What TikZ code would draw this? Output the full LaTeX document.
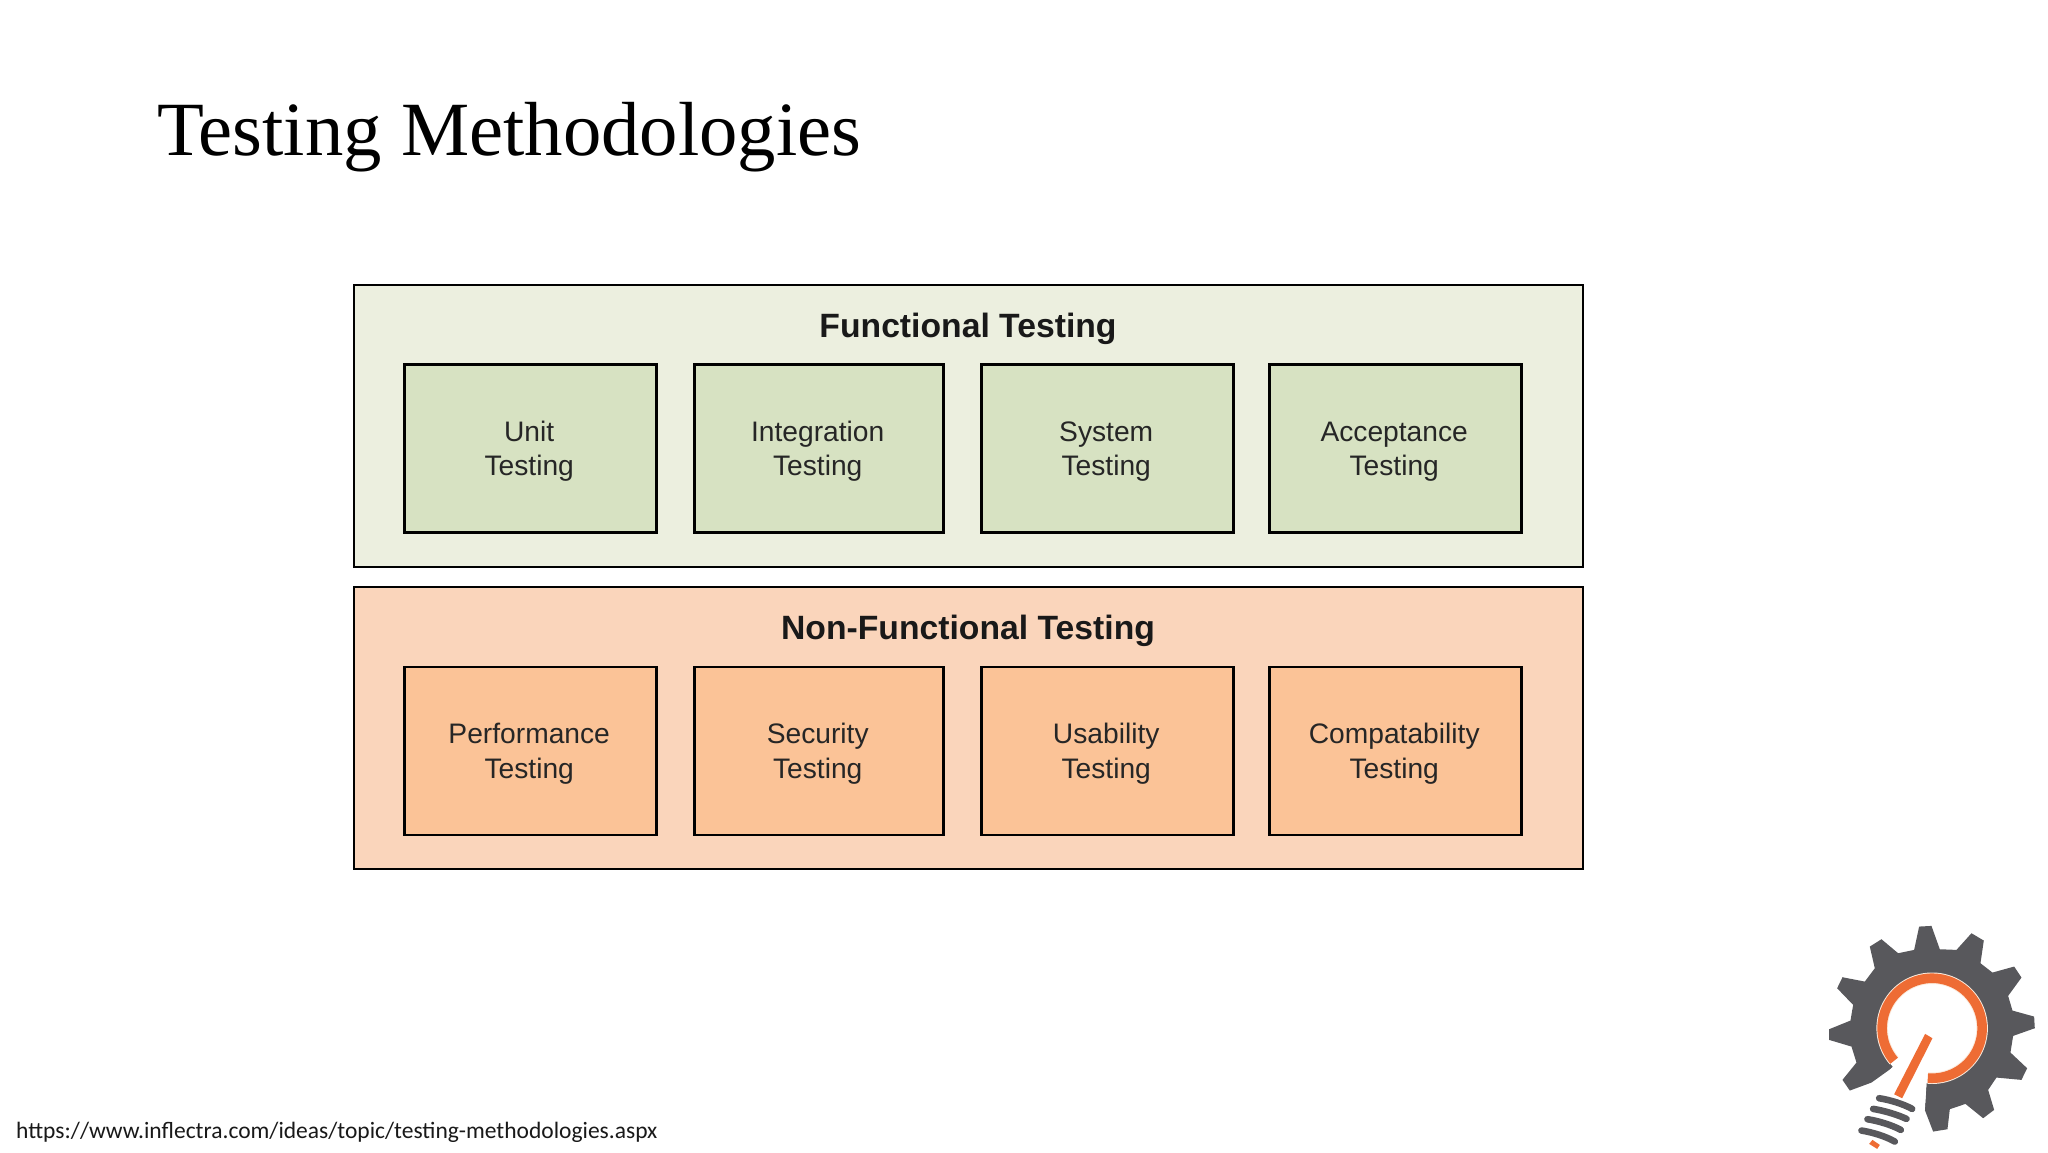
\documentclass[tikz,border=0pt]{standalone}
\usepackage{fontspec}
\setmainfont{Liberation Sans}
\newfontfamily\titlefont{Liberation Serif}
\newfontfamily\urlfont{Carlito}
\definecolor{gpanel}{HTML}{ECEFDF}
\definecolor{gbox}{HTML}{D7E2C2}
\definecolor{opanel}{HTML}{FAD5BB}
\definecolor{obox}{HTML}{FBC397}
\definecolor{boxtext}{HTML}{262626}
\definecolor{gearc}{HTML}{58585C}
\definecolor{orangec}{HTML}{EE6C34}
\definecolor{creamc}{HTML}{FBEBDD}
\newcommand{\twolines}[2]{\begin{tabular}{@{}c@{}}\rule{0pt}{30.5pt}#1\\[0.4pt]#2\end{tabular}\hspace{2.6pt}}
\tikzset{
  panel/.style={draw=black,line width=2pt,inner sep=0pt,minimum width=1229pt,minimum height=282pt},
  testbox/.style={draw=black,line width=2.5pt,inner sep=0pt,minimum height=168pt,align=center,font=\fontsize{28.2}{34}\selectfont,text=boxtext},
  head/.style={font=\fontsize{33.7}{36}\selectfont\bfseries,text=black!90,inner sep=0pt},
  coil/.style={draw=gearc,line width=6.6pt,line cap=round},
}
\begin{document}
\begin{tikzpicture}[x=1pt,y=-1pt]
\useasboundingbox (0,0) rectangle (2048,1152);
\fill[white] (0,0) rectangle (2048,1152);
\node[anchor=base west,inner sep=0pt,font=\fontsize{76.7}{90}\selectfont\titlefont] (title) at (157,155) {Testing Methodologies};
\node[panel,fill=gpanel] (fpanel) at (968.5,426) {};
\node[panel,fill=opanel] (npanel) at (968.5,728) {};
\node[head] (fhead) at (968,329) {Functional Testing};
\node[head] (nhead) at (968,631) {Non-Functional Testing};
\node[testbox,fill=gbox,minimum width=252pt] (f1) at (530.5,448.5) {\twolines{Unit}{Testing}};
\node[testbox,fill=gbox,minimum width=249pt] (f2) at (819,448.5) {\twolines{Integration}{Testing}};
\node[testbox,fill=gbox,minimum width=252pt] (f3) at (1107.5,448.5) {\twolines{System}{Testing}};
\node[testbox,fill=gbox,minimum width=252pt] (f4) at (1395.5,448.5) {\twolines{Acceptance}{Testing}};
\node[testbox,fill=obox,minimum width=252pt] (n1) at (530.5,751) {\twolines{Performance}{Testing}};
\node[testbox,fill=obox,minimum width=249pt] (n2) at (819,751) {\twolines{Security}{Testing}};
\node[testbox,fill=obox,minimum width=252pt] (n3) at (1107.5,751) {\twolines{Usability}{Testing}};
\node[testbox,fill=obox,minimum width=252pt] (n4) at (1395.5,751) {\twolines{Compatability}{Testing}};
\node[anchor=base west,inner sep=0pt,font=\fontsize{23.5}{28}\selectfont\urlfont,text=black!90] (url) at (16,1138) {https://www.inflectra.com/ideas/topic/testing-methodologies.aspx};
\begin{scope}[x=0.3333pt,y=-0.3333pt,shift={(5400,2700)}]
\fill[gearc] (343,150)--(358,80)--(395,78)--(420,148)--(470,150)--(515,100)--(552,122)--(542,190)--(578,218)--(643,200)--(665,233)--(625,288)--(638,332)--(703,350)--(705,385)--(640,408)--(632,458)--(682,505)--(665,540)--(590,533)--(565,570)--(583,630)--(550,655)--(497,612)--(450,628)--(443,688)--(400,695)--(375,630)--(380,550)--(397,385)--(275,505)--(215,548)--(150,572)--(128,540)--(170,488)--(155,440)--(88,420)--(88,388)--(152,362)--(160,315)--(112,265)--(128,232)--(195,245)--(225,205)--(210,140)--(245,118)--(295,160)--cycle;
\fill[white] (397,385) circle[radius=165];
\draw[creamc,line width=11.5pt] plot[domain=95:-220.5,samples=80] ({397+150*cos(\x)},{385+150*sin(\x)});
\draw[orangec,line width=9.6pt] plot[domain=95:-220.5,samples=80] ({397+150*cos(\x)},{385+150*sin(\x)});
\fill[white] (380,552)--(397,385)--(272,508)--(235,590)--(350,640)--(375,630)--cycle;
\fill[orangec] (376,402)--(398,415)--(307,595)--(283,583)--cycle;
\draw[coil] (238,595)..controls (270,600) and (310,612)..(337,627);
\draw[coil] (220,627)..controls (252,632) and (292,644)..(320,657);
\draw[coil] (203,658)..controls (235,663) and (275,675)..(303,690);
\draw[coil] (185,692)..controls (217,697) and (257,709)..(285,725);
\fill[orangec] (208,732)--(218,720)--(240,735)--(232,747)--cycle;
\end{scope}
\end{tikzpicture}
\end{document}
